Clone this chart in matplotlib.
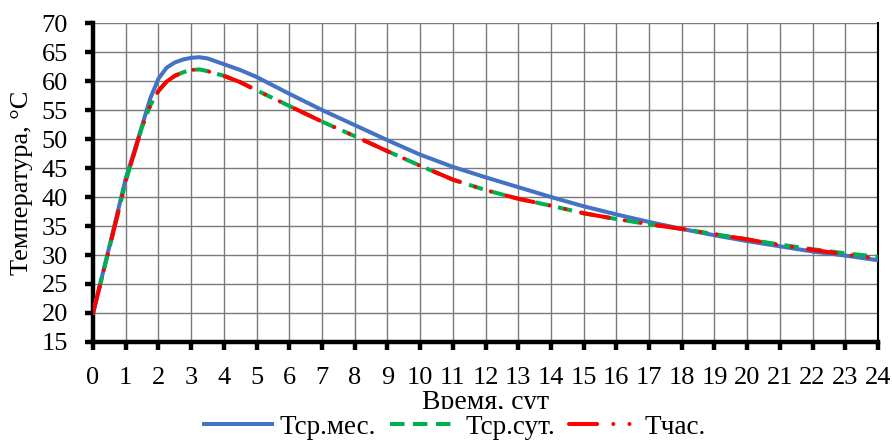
import matplotlib
matplotlib.use('Agg')
import matplotlib.pyplot as plt
import numpy as np

# days
t = [0, 0.5, 1, 1.5, 1.75, 2, 2.25, 2.5, 2.75, 3, 3.25, 3.5, 4, 4.5, 5, 6, 7, 8,
     9, 10, 11, 12, 13, 14, 15, 16, 17, 18, 19, 20, 21, 22, 23, 24]

t_month = [20, 31.5, 43.2, 52.3, 57.0, 60.4, 62.3, 63.2, 63.7, 64.0, 64.1, 63.9, 62.9,
           61.9, 60.7, 57.8, 55.0, 52.4, 49.8, 47.3, 45.2, 43.4, 41.7, 40.0, 38.4, 37.0,
           35.7, 34.5, 33.4, 32.4, 31.5, 30.6, 29.9, 29.1]
t_day = [20, 31.2, 42.7, 52.1, 55.8, 58.3, 59.9, 60.9, 61.5, 61.9, 62.0, 61.7, 60.9,
         59.8, 58.4, 55.7, 53.0, 50.5, 47.9, 45.4, 43.0, 41.2, 39.7, 38.5, 37.2, 36.2,
         35.3, 34.5, 33.6, 32.7, 31.8, 31.0, 30.3, 29.7]
t_hour = [20, 31.2, 42.7, 52.1, 55.8, 58.3, 59.9, 60.9, 61.5, 61.9, 62.0, 61.7, 60.9,
          59.8, 58.4, 55.7, 53.0, 50.5, 47.9, 45.4, 43.0, 41.2, 39.7, 38.5, 37.2, 36.2,
          35.3, 34.5, 33.6, 32.7, 31.7, 30.9, 30.1, 29.4]

labels = ['Тср.мес.', 'Тср.сут.', 'Тчас.']

plt.rcParams['font.family'] = ['Liberation Serif', 'DejaVu Serif']

fig = plt.figure(figsize=(8.92, 4.41), dpi=100)
ax = fig.add_axes([0.1043, 0.2245, 0.88, 0.7233])

ax.plot(t, t_month, color='#4472C4', lw=2.9, label=labels[0], zorder=3)
ax.plot(t, t_day, color='#00B050', lw=2.9, linestyle=(0, (3.6, 2.1)), label=labels[1], zorder=4)
ax.plot(t, t_hour, color='#FF0000', lw=2.9, linestyle=(0, (7, 4, 0.01, 4, 0.01, 4)),
        dash_capstyle='round', label=labels[2], zorder=5)

ax.set_xlim(0, 24)
ax.set_ylim(15, 70)
ax.set_xticks(np.arange(0, 25, 1))
ax.set_yticks(np.arange(15, 71, 5))
ax.grid(True, color='#7a7a7a', lw=1.0)
ax.set_axisbelow(True)

for s in ['left', 'bottom']:
    ax.spines[s].set_linewidth(3.2)
    ax.spines[s].set_color('black')
ax.spines['right'].set_linewidth(1.5)
ax.spines['top'].set_visible(False)
ax.tick_params(axis='both', direction='out', length=6, width=3.2, labelsize=19, pad=12)

ax.set_ylabel('Температура, °C', fontsize=19, labelpad=6)
ax.set_xlabel('Время, сут', fontsize=20, labelpad=1)

# legend box sits over the lower part of the axis title, as in the original
fig.legend(loc='center', bbox_to_anchor=(0.51, 0.031), ncol=3, fontsize=19.5,
           handlelength=2.5, handletextpad=0.3, columnspacing=0.5,
           frameon=True, facecolor='white', edgecolor='none', framealpha=1,
           borderpad=0.2)

fig.savefig('out.png', dpi=100)
